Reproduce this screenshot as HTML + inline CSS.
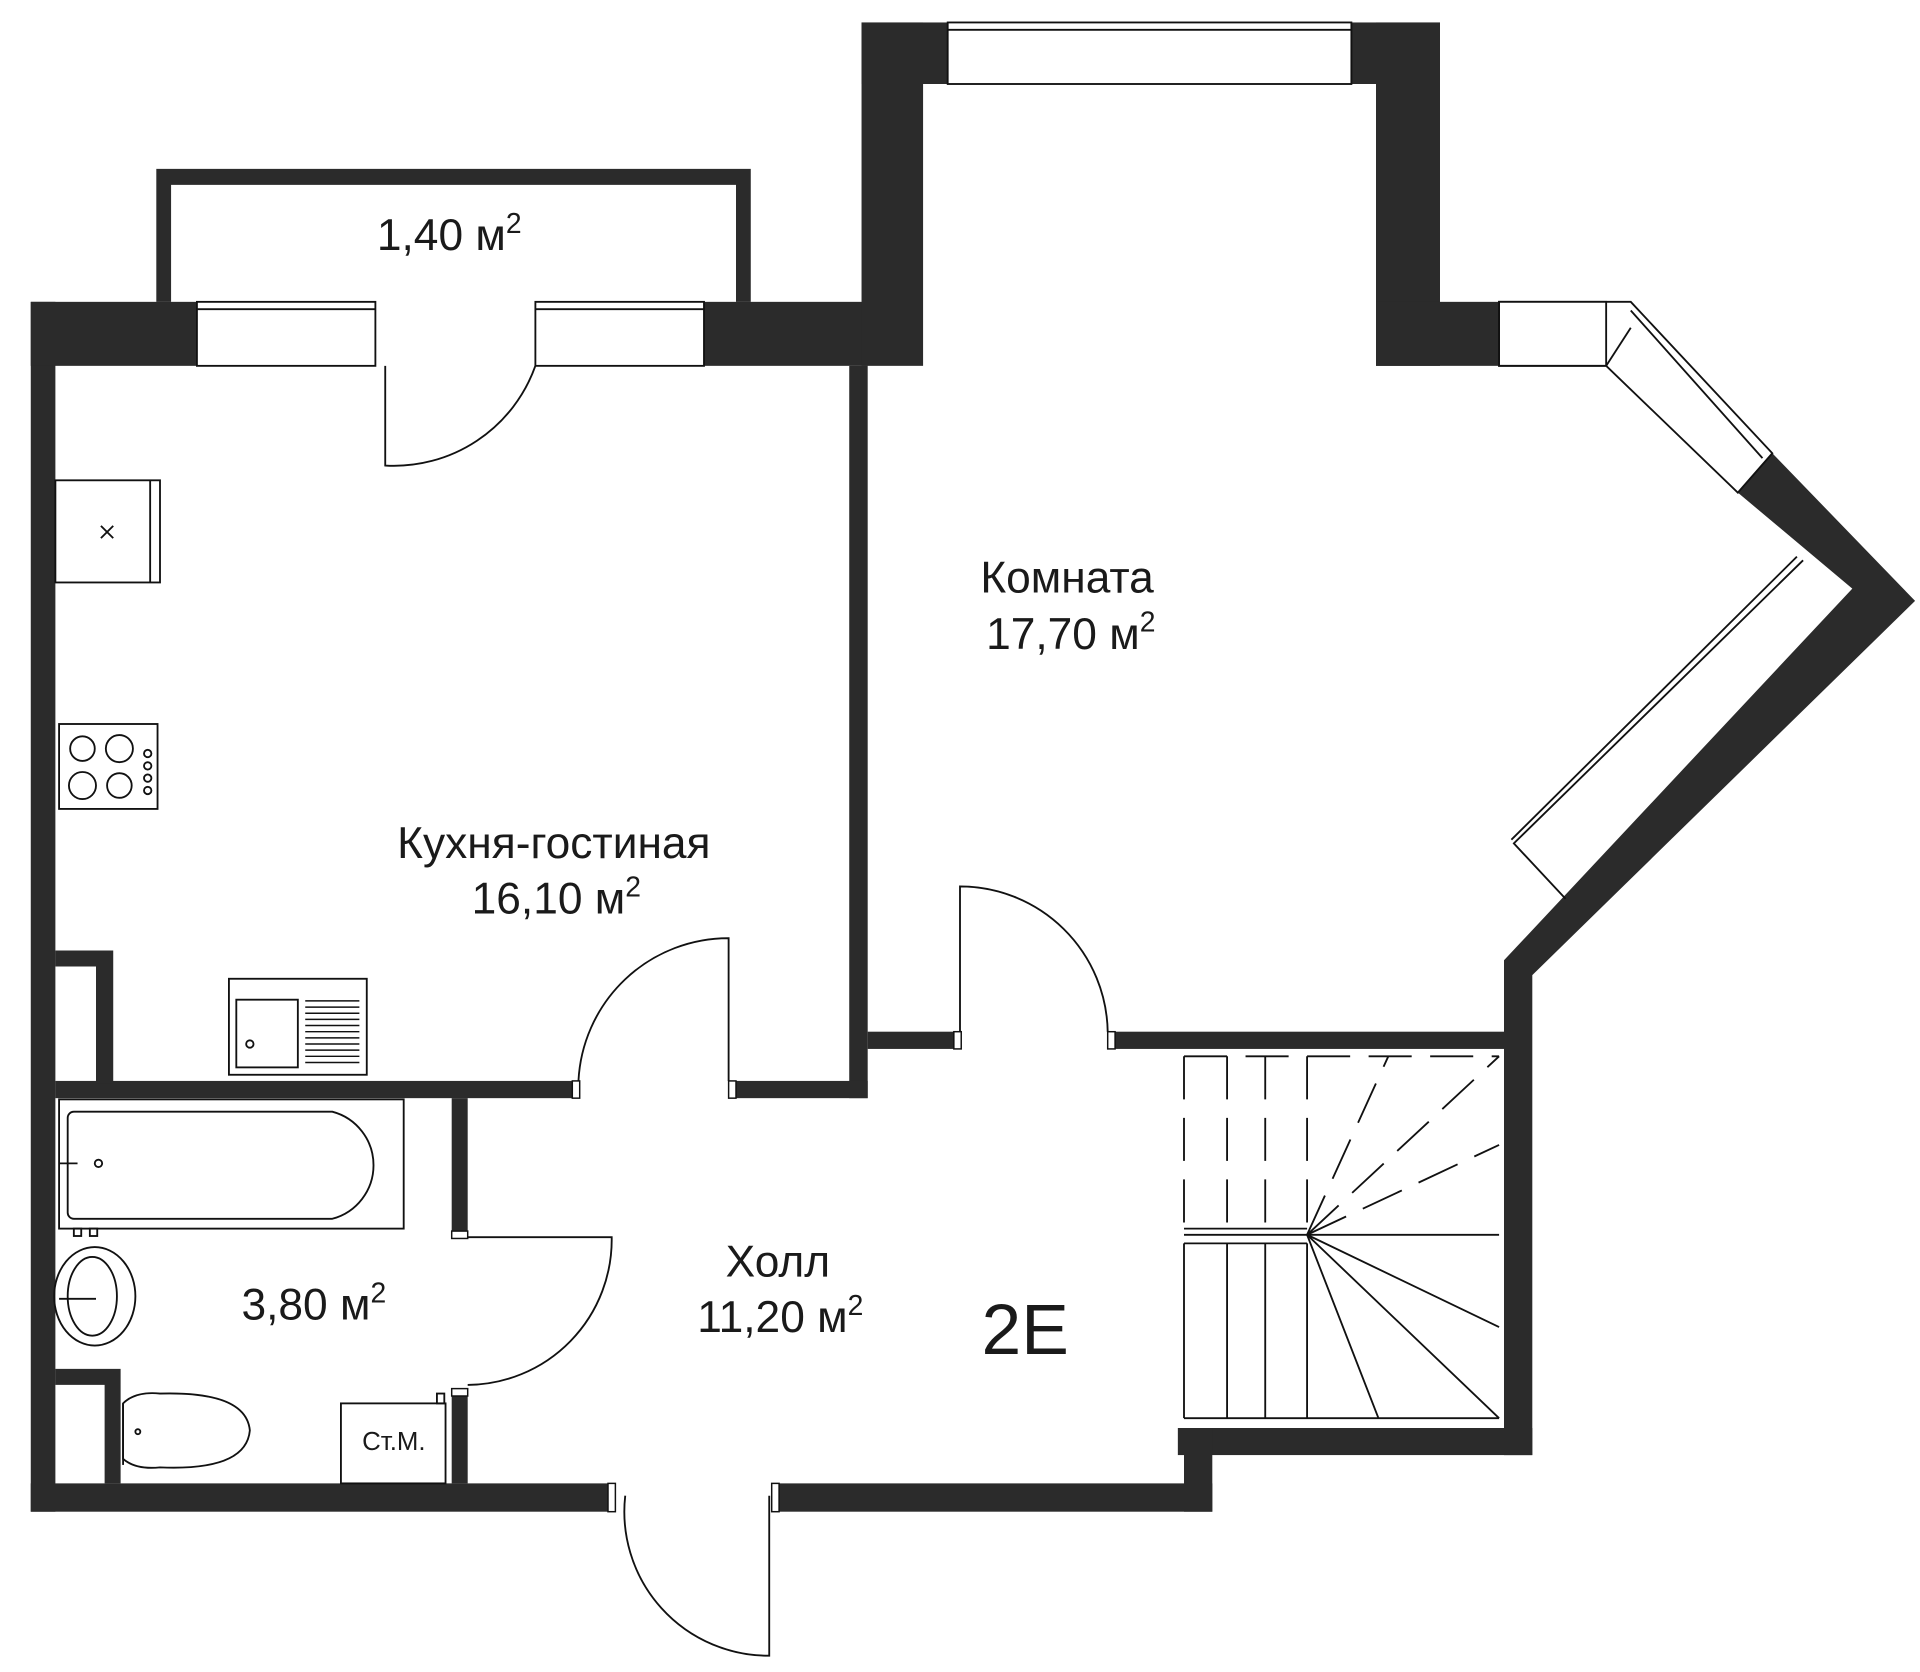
<!DOCTYPE html>
<html><head><meta charset="utf-8"><style>html,body{margin:0;padding:0;background:#fff}svg{display:block}text{font-family:"Liberation Sans",sans-serif;fill:#1a1a1a}</style></head>
<body>
<svg width="1920" height="1672" viewBox="0 0 1560 1358" xmlns="http://www.w3.org/2000/svg">
<g fill="#2b2b2b">
<rect x="25" y="245" width="20" height="983"/>
<rect x="25" y="245" width="135" height="52"/>
<rect x="572" y="245" width="133" height="52"/>
<rect x="700" y="18" width="50" height="279"/>
<rect x="700" y="18" width="470" height="50"/>
<rect x="1118" y="18" width="52" height="279"/>
<rect x="1118" y="245" width="100" height="52"/>
<rect x="690" y="297" width="15" height="595"/>
<rect x="45" y="878" width="425" height="14"/>
<rect x="592" y="878" width="113" height="14"/>
<rect x="705" y="838" width="75" height="14"/>
<rect x="900" y="838" width="322" height="14"/>
<rect x="957" y="1160" width="288" height="22"/>
<rect x="962" y="1160" width="23" height="68"/>
<rect x="25" y="1205" width="475" height="23"/>
<rect x="632" y="1205" width="353" height="23"/>
<rect x="367" y="892" width="13" height="113"/>
<rect x="367" y="1130" width="13" height="75"/>
<path d="M127,137H610V245H598V150H139V245H127Z"/>
<path d="M45,772H92V880H78V785H45Z"/>
<path d="M45,1112H98V1205H85V1125H45Z"/>
<polygon points="1412,400 1440,368 1556,488 1245,792 1245,1182 1222,1182 1222,780 1505,478"/>
</g>
<g fill="#fff" stroke="#111" stroke-width="1.5">
<rect x="770" y="18" width="328" height="50"/>
<line x1="770" y1="24" x2="1098" y2="24"/>
<rect x="160" y="245" width="145" height="52"/>
<line x1="160" y1="251" x2="305" y2="251"/>
<rect x="435" y="245" width="137" height="52"/>
<line x1="435" y1="251" x2="572" y2="251"/>
<rect x="1218" y="245" width="87" height="52"/>
<line x1="1218" y1="251" x2="1325" y2="251"/>
<polygon points="1218,245 1325,245 1440,368 1412,400 1305,297 1218,297"/>
<line x1="1325" y1="252" x2="1432" y2="372"/>
<line x1="1305" y1="297" x2="1325" y2="266"/>
<line x1="1305" y1="245" x2="1305" y2="297"/>
</g>
<g fill="none" stroke="#111" stroke-width="1.5">
<path d="M1465,455L1230,685L1272,730"/>
<line x1="1460" y1="452" x2="1228" y2="682"/>
<path d="M313,297V378A122,122 0 0 0 435,297"/>
<path d="M592,878V762A122,122 0 0 0 470,878"/>
<path d="M780,838V720A120,120 0 0 1 900,838"/>
<path d="M380,1005H497A118,118 0 0 1 380,1125"/>
<path d="M625,1215V1345A117,117 0 0 1 508,1215"/>
<line x1="962" y1="1152" x2="1218" y2="1152"/>
<line x1="962" y1="1003" x2="1218" y2="1003"/>
<line x1="962" y1="998" x2="1062" y2="998"/>
<line x1="962" y1="1010" x2="1062" y2="1010"/>
<line x1="962" y1="1010" x2="962" y2="1152"/>
<line x1="997" y1="1010" x2="997" y2="1152"/>
<line x1="1028" y1="1010" x2="1028" y2="1152"/>
<line x1="1062" y1="1010" x2="1062" y2="1152"/>
<path d="M1062,1003L1120,1152M1062,1003L1218,1152M1062,1003L1218,1078"/>
<g stroke-dasharray="35,15">
<line x1="962" y1="858" x2="1218" y2="858"/>
<line x1="962" y1="858" x2="962" y2="995"/>
<line x1="997" y1="858" x2="997" y2="995"/>
<line x1="1028" y1="858" x2="1028" y2="995"/>
<line x1="1062" y1="858" x2="1062" y2="995"/>
<line x1="1062" y1="1003" x2="1128" y2="858"/>
<line x1="1062" y1="1003" x2="1218" y2="858"/>
<line x1="1062" y1="1003" x2="1218" y2="930"/>
</g>
<rect x="45" y="390" width="85" height="83"/>
<line x1="122" y1="390" x2="122" y2="473"/>
<path d="M82,427l10,10M92,427l-10,10"/>
<rect x="48" y="588" width="80" height="69"/>
<circle cx="67" cy="608" r="10"/><circle cx="97" cy="608" r="11"/>
<circle cx="67" cy="638" r="11"/><circle cx="97" cy="638" r="10"/>
<circle cx="120" cy="612" r="3"/><circle cx="120" cy="622" r="3"/><circle cx="120" cy="632" r="3"/><circle cx="120" cy="642" r="3"/>
<rect x="186" y="795" width="112" height="78"/>
<rect x="192" y="812" width="50" height="55"/>
<circle cx="203" cy="848" r="3"/>
<g stroke-width="1.2">
<path d="M248,813h44M248,818h44M248,823h44M248,828h44M248,833h44M248,838h44M248,843h44M248,848h44M248,853h44M248,858h44M248,863h44"/>
</g>
<rect x="48" y="893" width="280" height="105"/>
<path d="M60,903H270A45,45 0 0 1 270,990H60A5,5 0 0 1 55,985V908A5,5 0 0 1 60,903Z"/>
<circle cx="80" cy="945" r="3"/>
<path d="M48,945h15"/>
<ellipse cx="77" cy="1053" rx="33" ry="40"/>
<ellipse cx="75" cy="1053" rx="20" ry="32"/>
<path d="M48,1055h30"/>
<rect x="60" y="998" width="6" height="6"/><rect x="73" y="998" width="6" height="6"/>
<path d="M100,1140Q110,1130 130,1132Q200,1130 203,1162Q200,1195 130,1192Q110,1194 100,1185Z"/>
<path d="M100,1140V1190"/>
<circle cx="112" cy="1163" r="2"/>
<rect x="277" y="1140" width="85" height="65"/>
<rect x="355" y="1132" width="6" height="8"/>
</g>
<g fill="#fff" stroke="#111" stroke-width="1.2">
<rect x="465" y="878" width="6" height="14"/><rect x="592" y="878" width="6" height="14"/>
<rect x="775" y="838" width="6" height="14"/><rect x="900" y="838" width="6" height="14"/>
<rect x="494" y="1205" width="6" height="23"/><rect x="627" y="1205" width="6" height="23"/>
<rect x="367" y="1000" width="13" height="6"/><rect x="367" y="1128" width="13" height="6"/>
</g>
<text x="365" y="203" font-size="36" text-anchor="middle">1,40 м<tspan font-size="23" dy="-14">2</tspan></text>
<text x="867" y="481" font-size="36" text-anchor="middle">Комната</text>
<text x="870" y="527" font-size="36" text-anchor="middle">17,70 м<tspan font-size="23" dy="-14">2</tspan></text>
<text x="450" y="697" font-size="36" text-anchor="middle">Кухня-гостиная</text>
<text x="452" y="742" font-size="36" text-anchor="middle">16,10 м<tspan font-size="23" dy="-14">2</tspan></text>
<text x="632" y="1037" font-size="36" text-anchor="middle">Холл</text>
<text x="634" y="1082" font-size="36" text-anchor="middle">11,20 м<tspan font-size="23" dy="-14">2</tspan></text>
<text x="255" y="1072" font-size="36" text-anchor="middle">3,80 м<tspan font-size="23" dy="-14">2</tspan></text>
<text x="833" y="1100" font-size="58" text-anchor="middle">2E</text>
<text x="320" y="1178" font-size="21" text-anchor="middle">Ст.М.</text>
</svg>
</body></html>
